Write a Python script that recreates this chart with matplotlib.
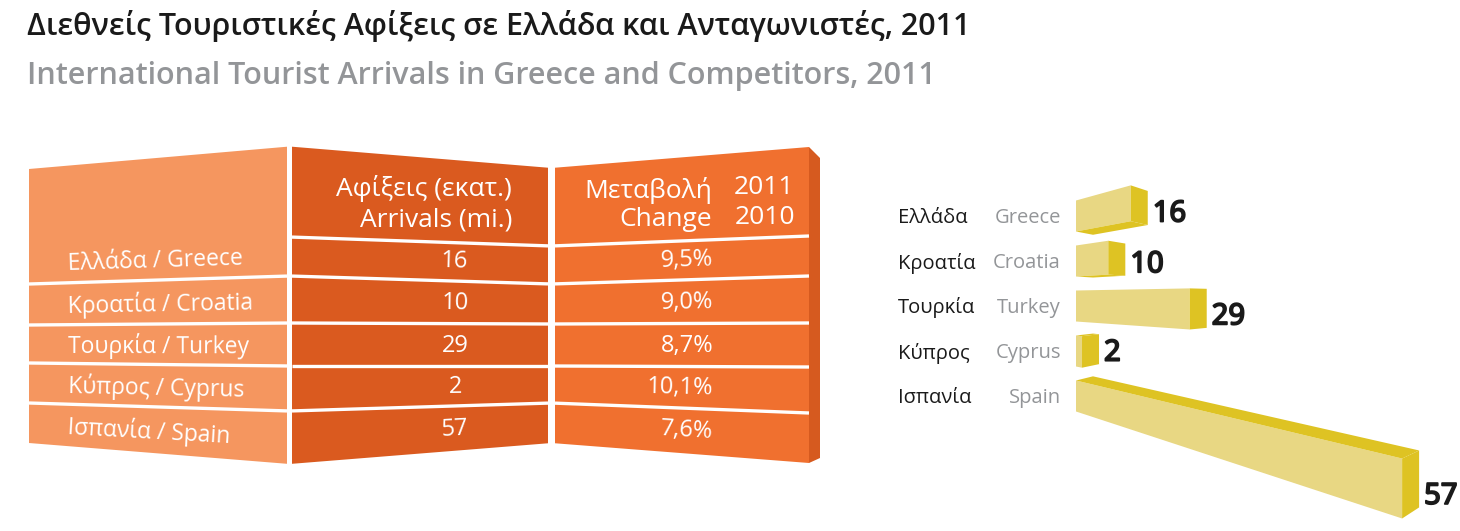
import numpy as np
import matplotlib
matplotlib.use('Agg')
import matplotlib.pyplot as plt
import matplotlib.patheffects as pe
from matplotlib.patches import Polygon

# ---------------- data ----------------
countries_gr = ['Ελλάδα', 'Κροατία', 'Τουρκία', 'Κύπρος', 'Ισπανία']
countries_en = ['Greece', 'Croatia', 'Turkey', 'Cyprus', 'Spain']
arrivals = [16, 10, 29, 2, 57]                       # million arrivals, 2011
change_pct = ['9,5%', '9,0%', '8,7%', '10,1%', '7,6%']  # change 2011/2010

title_gr = 'Διεθνείς Τουριστικές Αφίξεις σε Ελλάδα και Ανταγωνιστές, 2011'
title_en = 'International Tourist Arrivals in Greece and Competitors, 2011'
hdr_arrivals = ['Αφίξεις (εκατ.)', 'Arrivals (mi.)']
hdr_change = ['Μεταβολή', 'Change']
hdr_years = ['2011', '2010']

# ---------------- style ----------------
FONT = ['Open Sans', 'DejaVu Sans']
NARROW = ['Noto Sans', 'DejaVu Sans']
C_LEFT, C_MID, C_RIGHT, C_SIDE = '#F5965F', '#DA5A1F', '#F0702F', '#D65A1F'
C_BAR, C_BAR_DARK = '#E8D783', '#DEC323'
C_GREY = '#939598'
C_INK = '#1a1a1a'

W, H = 1460, 531
fig = plt.figure(figsize=(W / 100, H / 100), dpi=100)
axp = fig.add_axes([0, 0, 1, 1])
axp.set_xlim(0, W)
axp.set_ylim(H, 0)
axp.axis('off')

# ---------------- titles ----------------
axp.text(27, 35, title_gr, fontsize=22, fontweight='semibold', color=C_INK,
         family=FONT, va='baseline', ha='left')
axp.text(27, 84, title_en, fontsize=22, fontweight='semibold', color=C_GREY,
         family=FONT, va='baseline', ha='left')

# ---------------- folded table (layout) ----------------
node_x = np.array([29, 289.5, 551.5, 809])
top_y = np.array([169, 146.5, 168, 147])
bot_y = np.array([443, 464, 443, 463])
bounds = [np.array([np.nan, 237, 246, 236]),
          np.array([284, 276, 284, 276]),
          np.array([325, 323, 324, 323]),
          np.array([363, 366, 366, 367]),
          np.array([403, 411, 403, 413])]
panels = [(29, 287, C_LEFT), (292, 548, C_MID), (555, 809, C_RIGHT)]


def yl(level, x):
    lv = np.array(level, dtype=float)
    if np.isnan(lv[0]):
        return np.interp(x, node_x[1:], lv[1:])
    return np.interp(x, node_x, lv)


for xa, xb, col in panels:
    poly = [(xa, yl(top_y, xa)), (xb, yl(top_y, xb)),
            (xb, yl(bot_y, xb)), (xa, yl(bot_y, xa))]
    axp.add_patch(Polygon(poly, closed=True, fc=col, ec='none'))
# right side face
axp.add_patch(Polygon([(809, 147), (820, 158), (820, 458), (809, 463)],
                      closed=True, fc=C_SIDE, ec='none'))

# separators
for k, b in enumerate(bounds):
    for pi, (xa, xb, col) in enumerate(panels):
        if k == 0 and pi == 0:
            continue
        axp.plot([xa, xb], [yl(b, xa), yl(b, xb)], color='white', lw=2.4,
                 solid_capstyle='butt')


def row_mid(i, x):
    upper = bounds[i] if i > 0 else None
    lower = bounds[i + 1] if i + 1 < len(bounds) else bot_y
    if upper is None or (x < 289.5 and i == 0):
        yc = yl(lower, x) - 21
    else:
        yc = 0.5 * (yl(upper, x) + yl(lower, x))
    return yc


def row_angle(i, xa, xb):
    ya = row_mid(i, xa)
    yb = row_mid(i, xb)
    return -np.degrees(np.arctan2(yb - ya, xb - xa))


# headers
HS = 19
axp.text(512, 188, hdr_arrivals[0], fontsize=HS, color='white', family=FONT,
         ha='right', va='center')
axp.text(512, 220, hdr_arrivals[1], fontsize=HS, color='white', family=FONT,
         ha='right', va='center')
axp.text(712, 190, hdr_change[0], fontsize=HS, color='white', family=FONT,
         ha='right', va='center')
axp.text(712, 220, hdr_change[1], fontsize=HS, color='white', family=FONT,
         ha='right', va='center')
axp.text(764, 187, hdr_years[0], fontsize=HS, color='white', family=FONT,
         ha='center', va='center')
axp.text(765, 217, hdr_years[1], fontsize=HS, color='white', family=FONT,
         ha='center', va='center')

# rows
RS = 16.5
for i in range(len(countries_gr)):
    lab = f'{countries_gr[i]} / {countries_en[i]}'
    axp.text(68, row_mid(i, 68) + 2, lab, fontsize=RS, fontweight='medium',
             color='white', family=FONT, ha='left', va='center',
             rotation=row_angle(i, 40, 280), rotation_mode='anchor')
    axp.text(455, row_mid(i, 455) + 1, str(arrivals[i]), fontsize=RS + 0.5,
             fontweight='medium', color='white', family=FONT, ha='center',
             va='center', rotation=row_angle(i, 300, 540), rotation_mode='anchor')
    axp.text(713, row_mid(i, 690) + 1, change_pct[i], fontsize=RS + 0.5,
             fontweight='medium', color='white', family=FONT, ha='right',
             va='center', rotation=row_angle(i, 560, 800), rotation_mode='anchor')

# ---------------- perspective bars ----------------
x0 = 1076            # far end of every bar (pixels)
xv, yv = 727, 297    # vanishing point
DEPTH = 118.0        # perspective depth in data units
XMAX = 60


def fwd(v):
    v = np.asarray(v, dtype=float)
    with np.errstate(divide='ignore', invalid='ignore'):
        return 1.0 / (1.0 - np.clip(v, -1e9, DEPTH * 0.999) / DEPTH)


def inv(s):
    s = np.asarray(s, dtype=float)
    with np.errstate(divide='ignore', invalid='ignore'):
        return DEPTH * (1.0 - 1.0 / s)


x_end = xv + (x0 - xv) * float(fwd(XMAX))
axb = fig.add_axes([x0 / W, 0, (x_end - x0) / W, 1])
axb.set_xscale('function', functions=(fwd, inv))
axb.set_xlim(0, XMAX)
axb.set_ylim(H, 0)
axb.axis('off')
fig.canvas.draw()


def px(v):
    return axb.transData.transform([[v, 0]])[0, 0]


row_c = [216 + 45 * i for i in range(len(arrivals))]
bar_h = 31
wc = 17
kk = 0.95
bold_fx = [pe.withStroke(linewidth=1.3, foreground=C_INK)]

for i, v in enumerate(arrivals):
    yt, yb = row_c[i] - bar_h / 2, row_c[i] + bar_h / 2
    s = (px(v) - xv) / (x0 - xv)
    Bx, By = xv + (x0 - xv) * s, yv + (yt - yv) * s
    Cx, Cy = Bx, yv + (yb - yv) * s
    Bt = (Bx + wc, yv + (By - yv) * kk)
    Cb = (Cx + wc, yv + (Cy - yv) * kk)
    axp.add_patch(Polygon([(x0, yt), (Bx, By), (Cx, Cy), (x0, yb)],
                          closed=True, fc=C_BAR, ec='none'))
    if yt > yv:
        axp.add_patch(Polygon([(x0, yt), (x0 + wc, yv + (yt - yv) * kk), Bt, (Bx, By)],
                              closed=True, fc=C_BAR_DARK, ec='none'))
    if yb < yv:
        axp.add_patch(Polygon([(x0, yb), (x0 + wc, yv + (yb - yv) * kk), Cb, (Cx, Cy)],
                              closed=True, fc=C_BAR_DARK, ec='none'))
    axp.add_patch(Polygon([(Bx, By), Bt, Cb, (Cx, Cy)],
                          closed=True, fc=C_BAR_DARK, ec='none'))
    axp.text(Bt[0] + 5, Cb[1] - 11, str(v), fontsize=21, fontweight='black',
             fontstretch='condensed', family=NARROW, color=C_INK,
             ha='left', va='center', path_effects=bold_fx)
    axp.text(898, row_c[i] + 2, countries_gr[i], fontsize=14.5, color=C_INK,
             family=FONT, ha='left', va='center')
    axp.text(1061, row_c[i] + 2, countries_en[i], fontsize=14.5, color=C_GREY,
             family=FONT, ha='right', va='center')

fig.savefig('out.png', dpi=100)
